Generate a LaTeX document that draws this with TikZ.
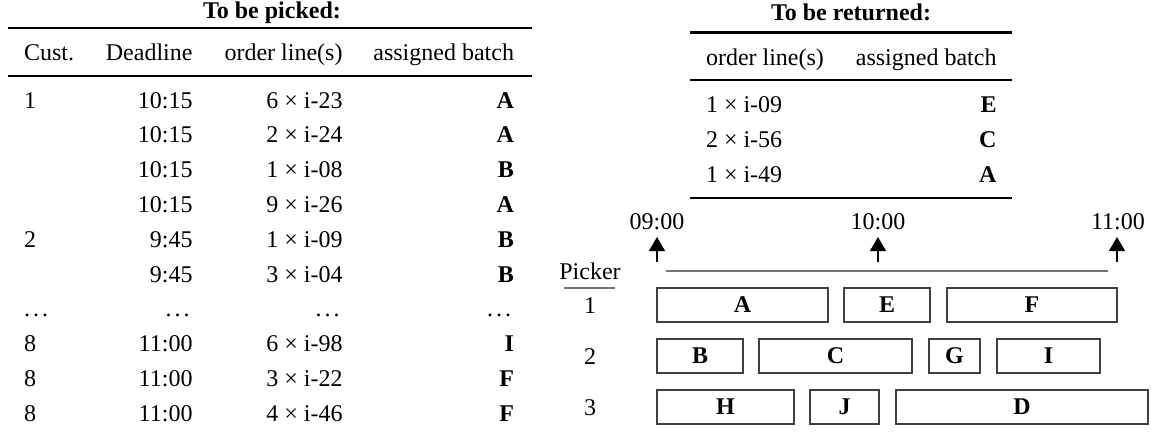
\documentclass[tikz,border=0pt]{standalone}
\usepackage{fontspec}
\setmainfont{Liberation Serif}
\usetikzlibrary{arrows.meta}
\newcommand\mydots{.\kern3pt.\kern3pt.\kern3pt}
\begin{document}
\begin{tikzpicture}[x=1pt,y=-1pt,
  txt/.style={inner sep=0pt, outer sep=0pt, font=\fontsize{24}{28}\selectfont},
  L/.style={txt, anchor=base west},
  R/.style={txt, anchor=base east},
  C/.style={txt, anchor=base},
  bold/.style={font=\fontsize{24}{28}\selectfont\bfseries},
  heavy/.style={line width=2.8pt},
  light/.style={line width=2pt},
  grayline/.style={draw=black!55, line width=2pt},
  batchbox/.style={draw=black!75, line width=1.5pt, inner sep=0pt, outer sep=0pt,
    anchor=north west, minimum height=34pt, font=\fontsize{24}{28}\selectfont\bfseries},
  tick/.style={line width=1.2pt, -{Triangle[length=14pt,width=16pt]}},
]
\useasboundingbox (0,0) rectangle (1151,431);

% ---------- left table ----------
\node[C,bold] (ptitle) at (272,19) {To be picked:};
\draw[heavy] (8,28) -- (532,28);
\node[L] (hcust)  at (24,60)    {Cust.};
\node[R] (hdead)  at (192.5,60) {Deadline};
\node[R] (hord)   at (342.5,60) {order line(s)};
\node[R] (hbatch) at (514,60)   {assigned batch};
\draw[light] (8,75.5) -- (532,75.5);
\foreach \y/\c/\d/\o/\b [count=\i] in {
  108/1/10:15/6 × i-23/A,
  142.8//10:15/2 × i-24/A,
  177.6//10:15/1 × i-08/B,
  212.4//10:15/9 × i-26/A,
  247.2/2/9:45/1 × i-09/B,
  282//9:45/3 × i-04/B,
  316.8/\mydots/\mydots/\mydots/{\mdseries\mydots},
  351.6/8/11:00/6 × i-98/I,
  386.4/8/11:00/3 × i-22/F,
  421.2/8/11:00/4 × i-46/F}{
  \node[L] (lc\i) at (24,\y) {\c};
  \node[R] (ld\i) at (192.5,\y) {\d};
  \node[R] (lo\i) at (342.5,\y) {\o};
  \node[R,bold] (lb\i) at (514,\y) {\b};
}

% ---------- right table ----------
\node[C,bold] (rtitle) at (851,20) {To be returned:};
\draw[heavy] (690,32.5) -- (1012,32.5);
\node[L] (rhord)   at (706,65)   {order line(s)};
\node[R] (rhbatch) at (996.5,65) {assigned batch};
\draw[light] (690,80) -- (1012,80);
\foreach \y/\o/\b [count=\i] in {112.5/1 × i-09/E, 147.3/2 × i-56/C, 182.1/1 × i-49/A}{
  \node[L] (ro\i) at (706,\y) {\o};
  \node[R,bold] (rb\i) at (996.5,\y) {\b};
}
\draw[heavy] (690,198) -- (1012,198);

% ---------- timeline ----------
\node[C] (t9)  at (657,229)  {09:00};
\node[C] (t10) at (878,229)  {10:00};
\node[C] (t11) at (1118,229) {11:00};
\coordinate (a9s)  at (657,262);  \coordinate (a9e)  at (657,237);
\coordinate (a10s) at (878,262);  \coordinate (a10e) at (878,237);
\coordinate (a11s) at (1117,262); \coordinate (a11e) at (1117,237);
\draw[tick] (a9s) -- (a9e);
\draw[tick] (a10s) -- (a10e);
\draw[tick] (a11s) -- (a11e);
\coordinate (gl) at (666,271); \coordinate (gr) at (1108,271);
\draw[grayline] (gl) -- (gr);

% ---------- pickers ----------
\node[C] (picker) at (590,279) {Picker};
\coordinate (pul) at (564,288); \coordinate (pur) at (615,288);
\draw[grayline] (pul) -- (pur);
\node[C] (p1) at (590,313) {1};
\node[C] (p2) at (590,364) {2};
\node[C] (p3) at (590,415) {3};

% ---------- batches ----------
\node[batchbox, minimum width=171pt] (bA) at (657,288) {A};
\node[batchbox, minimum width=86pt]  (bE) at (844,288) {E};
\node[batchbox, minimum width=170pt] (bF) at (947,288) {F};
\node[batchbox, minimum width=86pt]  (bB) at (657,339) {B};
\node[batchbox, minimum width=153pt] (bC) at (759,339) {C};
\node[batchbox, minimum width=51pt]  (bG) at (929,339) {G};
\node[batchbox, minimum width=103pt] (bI) at (997,339) {I};
\node[batchbox, minimum width=137pt] (bH) at (657,390) {H};
\node[batchbox, minimum width=69pt]  (bJ) at (810,390) {J};
\node[batchbox, minimum width=252pt] (bD) at (896,390) {D};
\end{tikzpicture}
\end{document}
